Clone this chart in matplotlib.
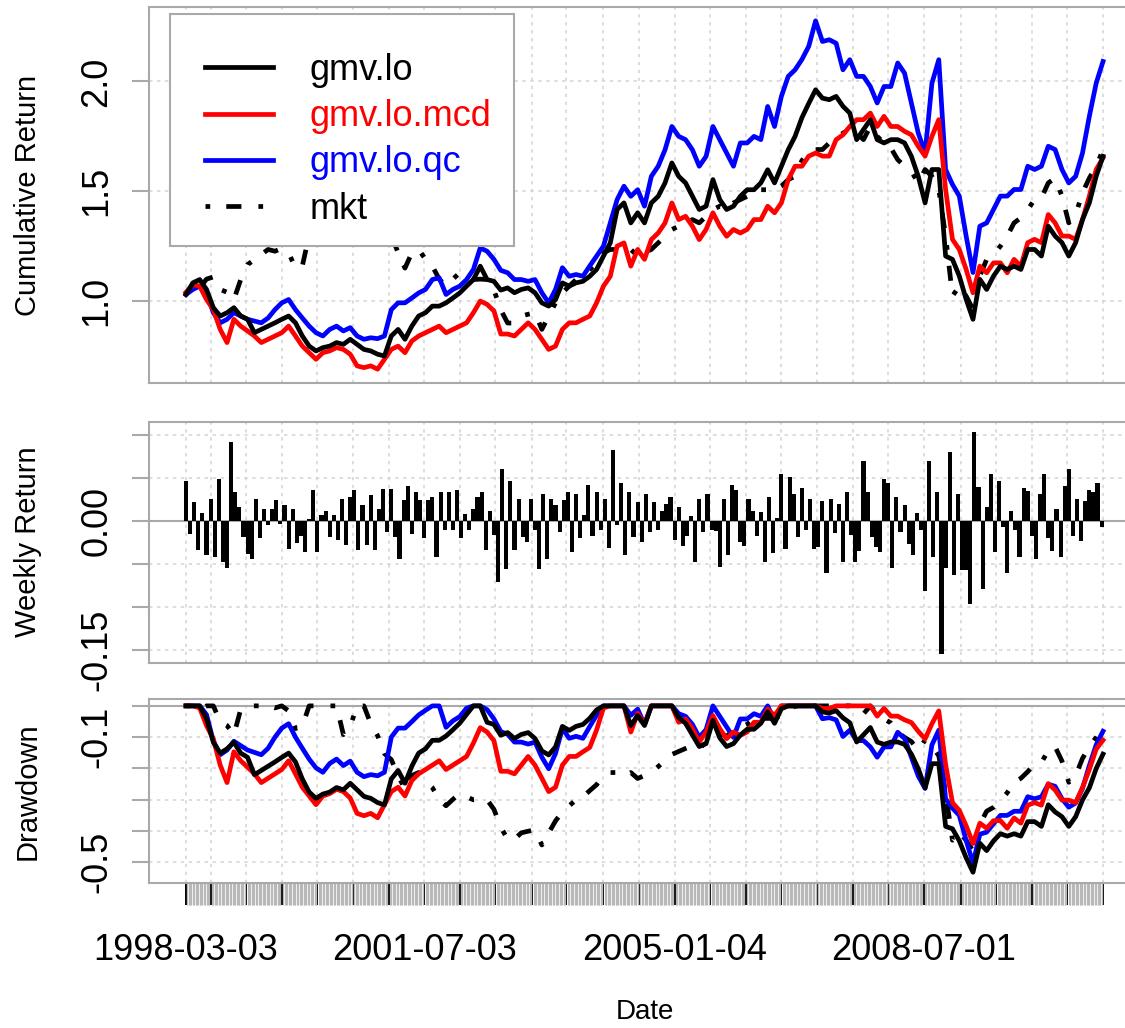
import numpy as np
import pandas as pd
import matplotlib
matplotlib.use("Agg")
import matplotlib.pyplot as plt
import matplotlib.dates as mdates
from matplotlib.patches import Rectangle

plt.rcParams["font.family"] = ["Liberation Sans", "DejaVu Sans"]

# weekly index; wealth lines are sampled every 5 weeks, return bars every 3 weeks
weeks      = pd.date_range("1998-03-03", "2011-01-04", freq="W-TUE")
line_dates = weeks[::5]
bar_dates  = weeks[::3]

gmv_lo = [
    1.030, 1.083, 1.098, 1.053, 0.970, 0.932, 0.947, 0.970, 0.932, 0.917,
    0.856, 0.871, 0.886, 0.901, 0.917, 0.932, 0.901, 0.841, 0.795, 0.773,
    0.788, 0.795, 0.811, 0.803, 0.826, 0.803, 0.780, 0.773, 0.758, 0.750,
    0.841, 0.871, 0.826, 0.886, 0.932, 0.947, 0.977, 0.977, 0.992, 1.014,
    1.037, 1.068, 1.098, 1.159, 1.098, 1.090, 1.050, 1.060, 1.038, 1.053,
    1.060, 1.038, 0.992, 0.977, 1.007, 1.083, 1.068, 1.083, 1.090, 1.113,
    1.144, 1.205, 1.265, 1.417, 1.447, 1.356, 1.402, 1.356, 1.447, 1.477,
    1.538, 1.629, 1.568, 1.538, 1.477, 1.417, 1.432, 1.553, 1.462, 1.417,
    1.432, 1.477, 1.507, 1.507, 1.538, 1.598, 1.538, 1.614, 1.689, 1.750,
    1.835, 1.900, 1.962, 1.924, 1.917, 1.932, 1.887, 1.856, 1.735, 1.781,
    1.826, 1.735, 1.720, 1.735, 1.735, 1.720, 1.659, 1.568, 1.447, 1.599,
    1.599, 1.205, 1.190, 1.114, 1.008, 0.917, 1.099, 1.053, 1.114, 1.159,
    1.144, 1.159, 1.144, 1.235, 1.235, 1.205, 1.341, 1.296, 1.266, 1.205,
    1.266, 1.371, 1.447, 1.568, 1.659,
]

gmv_lo_mcd = [
    1.040, 1.075, 1.068, 1.007, 0.961, 0.871, 0.811, 0.917, 0.886, 0.864,
    0.841, 0.811, 0.826, 0.841, 0.856, 0.886, 0.841, 0.795, 0.765, 0.735,
    0.765, 0.773, 0.788, 0.780, 0.758, 0.705, 0.697, 0.705, 0.690, 0.735,
    0.780, 0.795, 0.765, 0.818, 0.841, 0.856, 0.871, 0.886, 0.856, 0.871,
    0.886, 0.901, 0.947, 1.000, 0.985, 0.955, 0.850, 0.850, 0.841, 0.871,
    0.901, 0.871, 0.826, 0.780, 0.795, 0.871, 0.901, 0.901, 0.917, 0.932,
    0.992, 1.068, 1.113, 1.250, 1.265, 1.159, 1.235, 1.190, 1.280, 1.310,
    1.356, 1.447, 1.371, 1.386, 1.341, 1.280, 1.326, 1.402, 1.341, 1.295,
    1.326, 1.310, 1.326, 1.371, 1.371, 1.432, 1.402, 1.447, 1.553, 1.614,
    1.614, 1.660, 1.674, 1.660, 1.660, 1.735, 1.757, 1.795, 1.826, 1.826,
    1.856, 1.795, 1.841, 1.795, 1.795, 1.773, 1.757, 1.705, 1.660, 1.750,
    1.826, 1.508, 1.281, 1.235, 1.144, 1.038, 1.159, 1.129, 1.174, 1.174,
    1.129, 1.190, 1.159, 1.266, 1.281, 1.266, 1.394, 1.356, 1.296, 1.296,
    1.281, 1.371, 1.478, 1.599, 1.652,
]

gmv_lo_qc = [
    1.030, 1.053, 1.068, 1.038, 0.947, 0.901, 0.917, 0.947, 0.932, 0.917,
    0.909, 0.901, 0.923, 0.961, 0.992, 1.007, 0.961, 0.923, 0.886, 0.856,
    0.841, 0.871, 0.886, 0.864, 0.879, 0.841, 0.826, 0.833, 0.829, 0.841,
    0.961, 0.992, 0.992, 1.014, 1.037, 1.053, 1.098, 1.106, 1.030, 1.053,
    1.068, 1.098, 1.144, 1.242, 1.227, 1.190, 1.140, 1.129, 1.098, 1.098,
    1.090, 1.098, 1.038, 0.992, 1.053, 1.152, 1.113, 1.121, 1.113, 1.160,
    1.205, 1.250, 1.356, 1.462, 1.523, 1.477, 1.507, 1.432, 1.568, 1.614,
    1.689, 1.795, 1.750, 1.735, 1.689, 1.614, 1.659, 1.795, 1.735, 1.674,
    1.614, 1.720, 1.720, 1.750, 1.735, 1.886, 1.795, 1.932, 2.023, 2.053,
    2.100, 2.160, 2.276, 2.182, 2.190, 2.174, 2.053, 2.099, 2.023, 2.023,
    1.977, 1.902, 1.977, 1.977, 2.084, 2.038, 1.902, 1.765, 1.674, 1.992,
    2.099, 1.599, 1.531, 1.478, 1.296, 1.130, 1.341, 1.356, 1.417, 1.478,
    1.478, 1.508, 1.508, 1.614, 1.599, 1.614, 1.705, 1.690, 1.599, 1.538,
    1.568, 1.674, 1.841, 1.992, 2.091,
]

mkt = [
    1.030, 1.070, 1.060, 1.100, 1.110, 1.053, 1.040, 1.007, 1.098, 1.166,
    1.189, 1.212, 1.235, 1.227, 1.240, 1.220, 1.150, 1.160, 1.300, 1.380,
    1.450, 1.500, 1.520, 1.380, 1.420, 1.530, 1.570, 1.480, 1.420, 1.330,
    1.300, 1.220, 1.150, 1.220, 1.235, 1.190, 1.159, 1.100, 1.068, 1.100,
    1.129, 1.113, 1.098, 1.100, 1.098, 1.050, 0.960, 0.900, 0.900, 0.932,
    0.940, 0.947, 0.871, 0.932, 0.992, 1.038, 1.068, 1.098, 1.113, 1.144,
    1.174, 1.220, 1.235, 1.235, 1.220, 1.235, 1.205, 1.220, 1.235, 1.265,
    1.295, 1.326, 1.341, 1.356, 1.371, 1.356, 1.386, 1.417, 1.432, 1.417,
    1.447, 1.462, 1.477, 1.507, 1.507, 1.507, 1.507, 1.523, 1.553, 1.568,
    1.640, 1.680, 1.690, 1.690, 1.720, 1.735, 1.765, 1.780, 1.765, 1.735,
    1.795, 1.750, 1.720, 1.697, 1.644, 1.614, 1.590, 1.538, 1.599, 1.568,
    1.508, 1.296, 1.023, 1.068, 1.023, 0.962, 1.114, 1.190, 1.212, 1.250,
    1.296, 1.356, 1.379, 1.417, 1.462, 1.470, 1.538, 1.560, 1.478, 1.356,
    1.394, 1.493, 1.560, 1.614, 1.689,
]

weekly_return = [
     0.046, -0.015,  0.022, -0.034,  0.009, -0.040,  0.026, -0.042,  0.049, -0.048,
    -0.055,  0.092,  0.034,  0.016, -0.019, -0.038, -0.044,  0.026, -0.020,  0.014,
    -0.005,  0.014,  0.024, -0.003,  0.018, -0.032,  0.014, -0.026, -0.017, -0.036,
     0.002,  0.036, -0.036,  0.007,  0.012, -0.019,  0.007, -0.022,  0.026, -0.028,
     0.028,  0.036, -0.034,  0.018, -0.028,  0.030, -0.034,  0.014,  0.037, -0.013,
     0.037, -0.019, -0.044,  0.024,  0.041, -0.015,  0.034,  0.024, -0.020,  0.024,
     0.028, -0.042,  0.034, -0.011,  0.034, -0.011,  0.036, -0.020,  0.008, -0.010,
     0.014,  0.028,  0.034, -0.034,  0.012, -0.016, -0.071,  0.060, -0.056,  0.046,
    -0.034,  0.026, -0.019, -0.024,  0.026, -0.010, -0.056,  0.031, -0.044,  0.026,
     0.018, -0.013,  0.024,  0.034, -0.036,  0.031, -0.020,  0.007,  0.042, -0.017,
     0.034, -0.010,  0.026, -0.031,  0.083, -0.005,  0.044, -0.040,  0.034, -0.019,
     0.022, -0.024,  0.031, -0.013,  0.022, -0.010,  0.012,  0.020,  0.028, -0.022,
     0.016, -0.029, -0.017,  0.006, -0.048,  0.026, -0.013,  0.031, -0.010, -0.012,
    -0.053,  0.026, -0.040,  0.042,  0.036, -0.024, -0.029,  0.026,  0.012, -0.017,
     0.010, -0.048,  0.028, -0.037,  0.004,  0.055, -0.032,  0.051,  0.031, -0.019,
     0.038, -0.010,  0.026, -0.032, -0.030,  0.023, -0.061,  0.026, -0.014,  0.020,
    -0.048,  0.034, -0.016, -0.048, -0.035,  0.070,  0.034, -0.019, -0.030, -0.036,
     0.049,  0.044, -0.055,  0.028, -0.013,  0.018, -0.027, -0.040,  0.009, -0.011,
    -0.081,  0.070, -0.042,  0.034, -0.154, -0.055,  0.080, -0.063,  0.031, -0.057,
    -0.057, -0.097,  0.103,  0.040, -0.079,  0.016,  0.055, -0.036,  0.046, -0.007,
    -0.060,  0.012, -0.011, -0.042,  0.038,  0.035, -0.017, -0.044,  0.031,  0.055,
    -0.020, -0.035,  0.014, -0.042,  0.041,  0.060, -0.018,  0.025, -0.023,  0.023,
     0.036,  0.034,  0.044, -0.007,
]

series = [
    ("gmv.lo",     gmv_lo,     "black", "-"),
    ("gmv.lo.mcd", gmv_lo_mcd, "red",   "-"),
    ("gmv.lo.qc",  gmv_lo_qc,  "blue",  "-"),
    ("mkt",        mkt,        "black", (0, (1, 3.4, 3.2, 3.6))),
]

W, H = 1125, 1028
fig = plt.figure(figsize=(W / 100, H / 100), dpi=100)

x_left, x_right = 149.3, 1139.7
def panel(top, bottom):
    return fig.add_axes([x_left / W, 1 - bottom / H, (x_right - x_left) / W, (bottom - top) / H])

ax_cum = panel(7, 383)
ax_ret = panel(422, 663)
ax_dd  = panel(699, 883)

frame_col = "#a9a9a9"
line_w = 3.4
grid_kw = dict(color="#d3d3d3", linestyle=(0, (2.2, 3)), linewidth=1.1)

# half-year major ticks: first weekly date of each Jan-Jun / Jul-Dec block
half_key = weeks.year * 2 + (weeks.month > 6)
major = weeks[~pd.Index(half_key).duplicated()]
major_labels = [d.strftime("%Y-%m-%d") if i % 7 == 0 else "" for i, d in enumerate(major)]

d0, d1 = mdates.date2num(weeks[0]), mdates.date2num(weeks[-1])
span = d1 - d0

for ax in (ax_cum, ax_ret, ax_dd):
    ax.set_xlim(d0 - 0.04 * span, d1 + 0.04 * span)
    ax.set_xticks(major)
    ax.set_axisbelow(True)
    ax.grid(True, **grid_kw)
    for sp in ax.spines.values():
        sp.set_color(frame_col)
        sp.set_linewidth(1.5)
    ax.tick_params(axis="y", length=12, width=1.5, color=frame_col, pad=13, labelsize=26, labelrotation=90)

for ax in (ax_cum, ax_ret):
    ax.tick_params(axis="x", length=0, labelbottom=False)

# cumulative return
for z, (name, values, color, ls) in enumerate(reversed(series)):
    ax_cum.plot(line_dates, values, color=color, linestyle=ls, linewidth=line_w, label=name, zorder=2 + z * 0.1)
ax_cum.set_ylim(0.627, 2.339)
ax_cum.set_yticks([1.0, 1.5, 2.0], labels=["1.0", "1.5", "2.0"])

ax_cum.add_patch(Rectangle((0.0209, 0.3644), 0.3473, 0.6170, transform=ax_cum.transAxes,
                           facecolor="white", edgecolor=frame_col, linewidth=1.5, zorder=4))
handles, labels = ax_cum.get_legend_handles_labels()
order = [labels.index(name) for name, _, _, _ in series]
leg = ax_cum.legend([handles[i] for i in order], [labels[i] for i in order],
                    loc="upper left", bbox_to_anchor=(0.0563, 0.8777), frameon=False,
                    borderpad=0, borderaxespad=0, handlelength=1.88, handletextpad=1.02,
                    labelspacing=0.31, fontsize=26)
leg.set_zorder(5)
for text, (_, _, color, _) in zip(leg.get_texts(), series):
    text.set_color(color)

# weekly returns of the first portfolio
ax_ret.bar(bar_dates, weekly_return, width=21, color="black", linewidth=0, zorder=2)
ax_ret.axhline(0, color=frame_col, linewidth=1.5, zorder=1.5)
ax_ret.set_ylim(-0.165, 0.115)
ax_ret.set_yticks([-0.15, -0.10, -0.05, 0.0, 0.05, 0.10], labels=["-0.15", "", "", "0.00", "", ""])

# drawdown from running peak of each wealth line
for z, (name, values, color, ls) in enumerate(reversed(series)):
    wealth = np.array(values)
    peak = np.maximum.accumulate(np.maximum(wealth, 1.0))
    ax_dd.plot(line_dates, wealth / peak - 1, color=color, linestyle=ls, linewidth=line_w, zorder=2 + z * 0.1)
ax_dd.axhline(0, color=frame_col, linewidth=1.5, zorder=1.5)
ax_dd.set_ylim(-0.567, 0.022)
ax_dd.set_yticks([-0.5, -0.4, -0.3, -0.2, -0.1, 0.0], labels=["-0.5", "", "", "", "-0.1", ""])

ax_dd.set_xticks(weeks, minor=True)
ax_dd.set_xticklabels(major_labels, fontsize=26)
ax_dd.tick_params(axis="x", which="major", length=15.8, width=1.4, color="black", pad=20)
ax_dd.tick_params(axis="x", which="minor", length=15.8, width=0.9, color="#b8b8b8")

for ax in (ax_cum, ax_ret, ax_dd):
    plt.setp(ax.get_yticklabels(), va="center")

fig.text(28 / W, 1 - 195 / H, "Cumulative Return", rotation=90, ha="center", va="center", fontsize=21)
fig.text(28 / W, 1 - 542 / H, "Weekly Return", rotation=90, ha="center", va="center", fontsize=21)
fig.text(28 / W, 1 - 791 / H, "Drawdown", rotation=90, ha="center", va="center", fontsize=21)
fig.text(644.5 / W, 1 - 1012 / H, "Date", ha="center", va="center", fontsize=20)

fig.savefig("out.png", dpi=100)
plt.close(fig)
